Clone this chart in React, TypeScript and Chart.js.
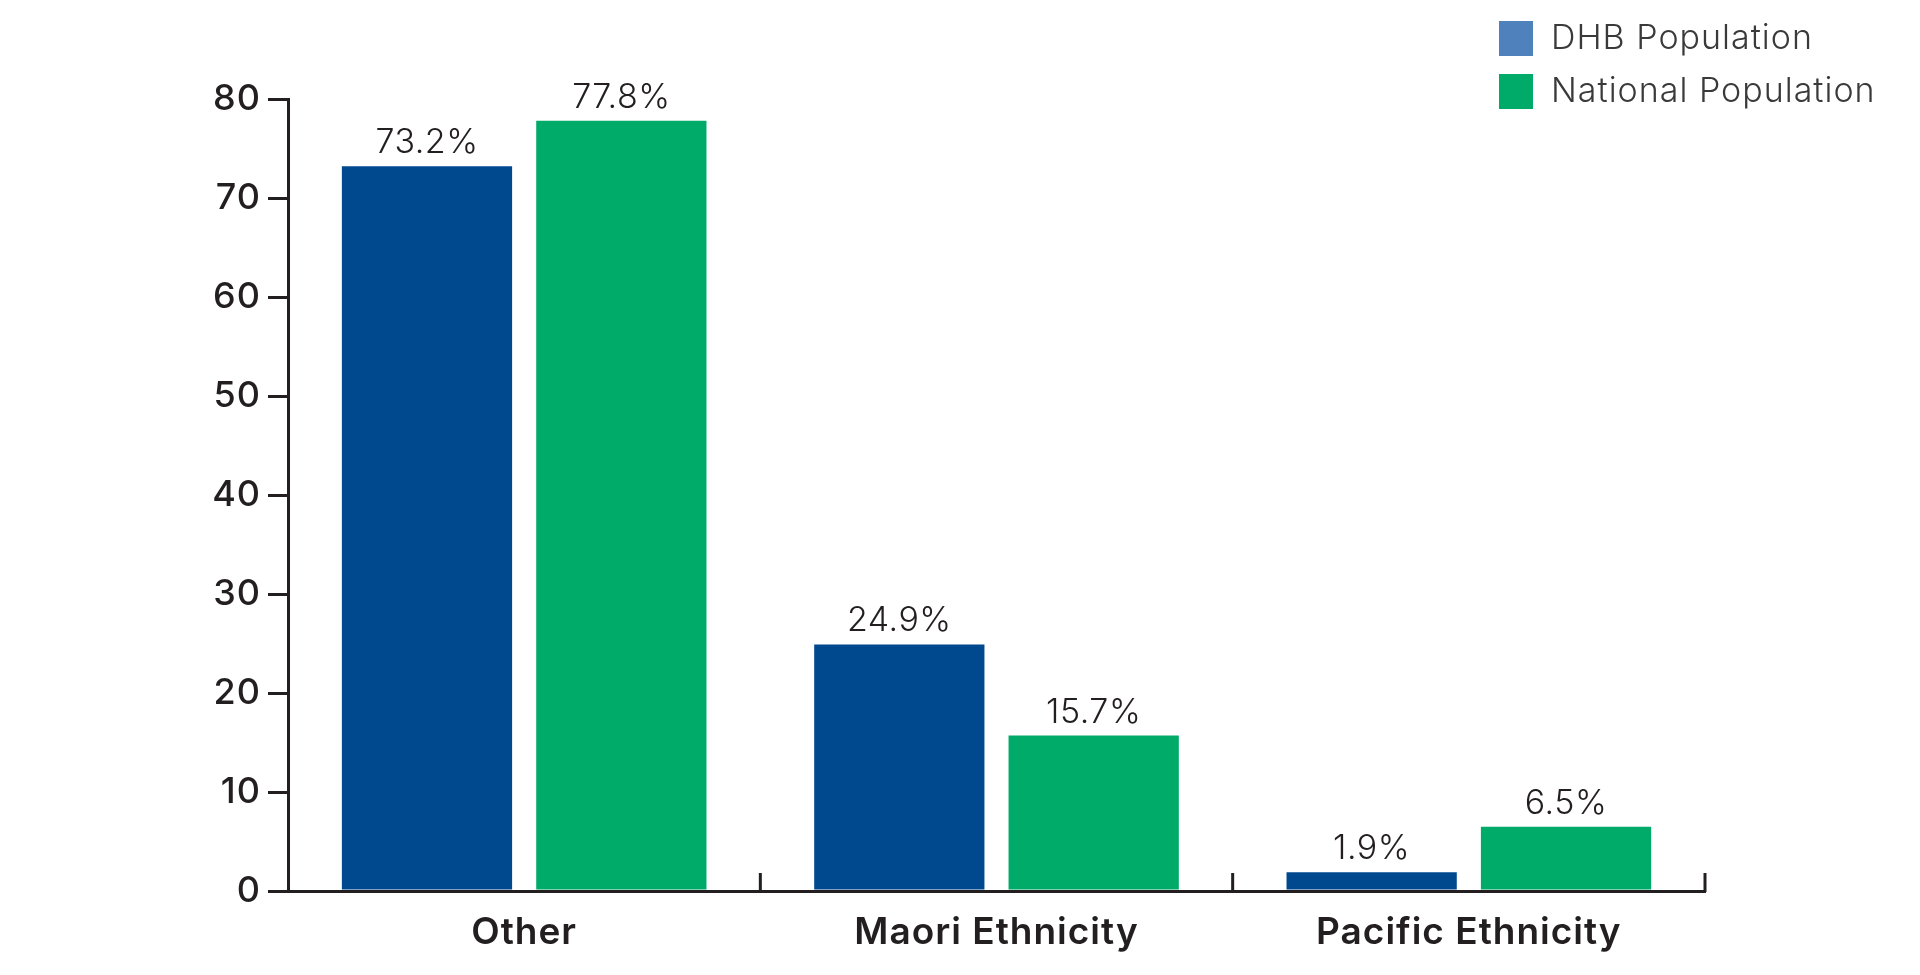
import React, { useEffect, useRef } from "react";
import { Chart, registerables } from "chart.js";

Chart.register(...registerables);

const categories = ["Other", "Maori Ethnicity", "Pacific Ethnicity"];
const dhbValues = [73.2, 24.9, 1.9];
const nationalValues = [77.8, 15.7, 6.5];
const seriesLabels = ["DHB Population", "National Population"];
const yTicks = [0, 10, 20, 30, 40, 50, 60, 70, 80];

const BLUE = "#00498F";
const GREEN = "#00AB69";
const LEGEND_BLUE = "#4F81BD";
const LEGEND_GREEN = "#00AB69";
const FONT = "Inter, 'Noto Sans', sans-serif";

export default function App() {
  const ref = useRef<HTMLCanvasElement | null>(null);

  useEffect(() => {
    if (!ref.current) return;

    const spacing = {
      id: "spacing",
      beforeDraw(chart: any) {
        chart.ctx.letterSpacing = "1px";
      },
    };

    const dataLabels = {
      id: "dataLabels",
      afterDatasetsDraw(chart: any) {
        const ctx = chart.ctx;
        ctx.save();
        ctx.letterSpacing = "0.5px";
        ctx.font = `300 34px ${FONT}`;
        ctx.fillStyle = "#231F20";
        ctx.textAlign = "center";
        ctx.textBaseline = "alphabetic";
        chart.data.datasets.forEach((ds: any, di: number) => {
          const meta = chart.getDatasetMeta(di);
          meta.data.forEach((bar: any, i: number) => {
            ctx.fillText(ds.data[i].toFixed(1) + "%", bar.x, bar.y - 13);
          });
        });
        ctx.restore();
      },
    };

    const catTicks = {
      id: "catTicks",
      afterDraw(chart: any) {
        const x = chart.scales.x;
        const ctx = chart.ctx;
        const bottom = chart.chartArea.bottom;
        ctx.save();
        ctx.strokeStyle = "#231F20";
        ctx.lineWidth = 3;
        const n = chart.data.labels.length;
        const positions: number[] = [];
        for (let i = 1; i < n; i++) {
          positions.push((x.getPixelForTick(i - 1) + x.getPixelForTick(i)) / 2);
        }
        positions.push(x.right);
        positions.forEach((px) => {
          ctx.beginPath();
          ctx.moveTo(px, bottom + 1);
          ctx.lineTo(px, bottom - 18);
          ctx.stroke();
        });
        ctx.restore();
      },
    };

    const customLegend = {
      id: "customLegend",
      afterDraw(chart: any) {
        const ctx = chart.ctx;
        const colors = [LEGEND_BLUE, LEGEND_GREEN];
        ctx.save();
        ctx.letterSpacing = "1px";
        ctx.font = `300 34px ${FONT}`;
        ctx.textAlign = "left";
        ctx.textBaseline = "middle";
        chart.data.datasets.forEach((ds: any, i: number) => {
          const top = 21 + i * 53;
          ctx.fillStyle = colors[i];
          ctx.fillRect(1499, top, 34, 35);
          ctx.fillStyle = "#3A3A3A";
          ctx.fillText(ds.label, 1551, top + 18);
        });
        ctx.restore();
      },
    };

    const chart = new Chart(ref.current, {
      type: "bar",
      data: {
        labels: categories,
        datasets: [
          {
            label: seriesLabels[0],
            data: dhbValues,
            backgroundColor: BLUE,
            categoryPercentage: 0.823,
            barPercentage: 0.876,
          },
          {
            label: seriesLabels[1],
            data: nationalValues,
            backgroundColor: GREEN,
            categoryPercentage: 0.823,
            barPercentage: 0.876,
          },
        ],
      },
      options: {
        animation: false,
        responsive: false,
        maintainAspectRatio: false,
        layout: { padding: { left: 0, top: 99, right: 215, bottom: 0 } },
        plugins: {
          legend: { display: false },
          tooltip: { enabled: false },
        },
        scales: {
          x: {
            grid: { display: false },
            border: { display: true, width: 3, color: "#231F20" },
            ticks: {
              font: { family: FONT, size: 37, weight: 600 },
              color: "#231F20",
              padding: 12,
            },
            afterFit(scale: any) {
              scale.height = 84;
            },
          },
          y: {
            min: 0,
            max: 80,
            afterBuildTicks(scale: any) {
              scale.ticks = yTicks.map((v) => ({ value: v }));
            },
            grid: {
              drawOnChartArea: false,
              drawTicks: true,
              tickLength: 20,
              lineWidth: 3,
              color: "#231F20",
            },
            border: { display: true, width: 3, color: "#231F20" },
            ticks: {
              font: { family: FONT, size: 36, weight: 500 },
              color: "#231F20",
              padding: 7,
            },
            afterFit(scale: any) {
              scale.width = 288;
            },
          },
        },
      },
      plugins: [spacing, dataLabels, catTicks, customLegend],
    });

    return () => chart.destroy();
  }, []);

  return (
    <div style={{ position: "absolute", left: 0, top: 0, width: 1920, height: 975, background: "#fff" }}>
      <canvas ref={ref} width={1920} height={975} style={{ display: "block" }} />
    </div>
  );
}
